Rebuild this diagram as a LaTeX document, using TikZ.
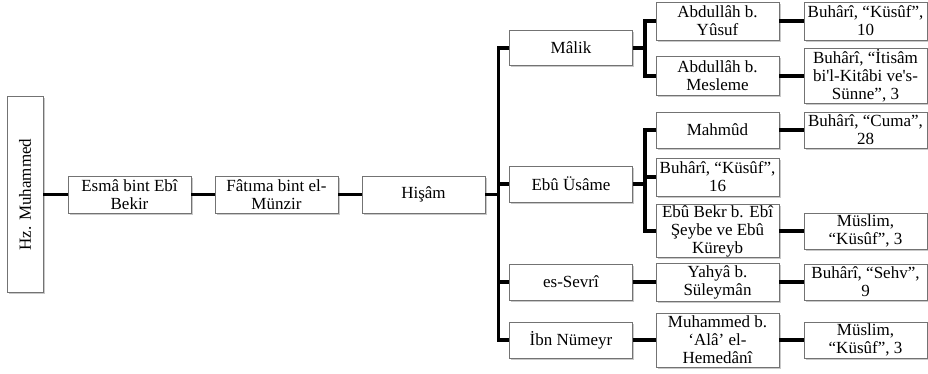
\documentclass[tikz,border=0pt]{standalone}
\usepackage{fontspec}
\setmainfont{Liberation Serif}
\usetikzlibrary{shadows}
\begin{document}
\begin{tikzpicture}[x=1pt,y=-1pt,
    box/.style={draw=black!55, line width=0.7pt, fill=white, minimum width=123pt,
      inner sep=1pt, align=center, font=\fontsize{17}{18}\selectfont,
      drop shadow={shadow xshift=1.5pt, shadow yshift=-1.5pt, fill=black!30, opacity=0.7}},
    link/.style={line width=3.5pt}]
    \useasboundingbox (0,0) rectangle (928,373);

    \node[box, minimum width=36pt, minimum height=196pt] (muh) at (25,194.5) {\rotatebox{90}{Hz. Muhammed}};
    \node[box, minimum height=37pt] (esma) at (129.5,194.5) {Esmâ bint Ebî\\Bekir};
    \node[box, minimum height=37pt] (fatima) at (276.5,194.5) {Fâtıma bint el-\\Münzir};
    \node[box, minimum height=37pt] (hisam) at (423.5,194.5) {Hişâm};

    \node[box, minimum height=35pt] (malik) at (571,48) {Mâlik};
    \node[box, minimum height=36pt] (ebu) at (571,184) {Ebû Üsâme};
    \node[box, minimum height=36pt] (sevri) at (571,282) {es-Sevrî};
    \node[box, minimum height=36pt] (numeyr) at (571,340) {İbn Nümeyr};

    \node[box, minimum height=38pt] (ayusuf) at (717.5,21) {Abdullâh b.\\Yûsuf};
    \node[box, minimum height=39pt] (amesleme) at (717.5,76) {Abdullâh b.\\Mesleme};
    \node[box, minimum height=36pt] (mahmud) at (717.5,130) {Mahmûd};
    \node[box, minimum height=38pt] (bk16) at (717.5,177) {Buhârî, “Küsûf”,\\16};
    \node[box, minimum height=50pt] (ebubekr) at (717.5,231) {Ebû Bekr b. Ebî\\Şeybe ve Ebû\\Küreyb};
    \node[box, minimum height=38pt] (yahya) at (717.5,282) {Yahyâ b.\\Süleymân};
    \node[box, minimum height=54pt] (muhala) at (717.5,340) {Muhammed b.\\‘Alâ’ el-\\Hemedânî};

    \node[box, minimum height=38pt] (bk10) at (865.5,21) {Buhârî, “Küsûf”,\\10};
    \node[box, minimum height=55pt] (bitisam) at (865.5,76) {Buhârî, “İtisâm\\bi\textquotesingle l-Kitâbi ve\textquotesingle s-\\Sünne”, 3};
    \node[box, minimum height=36pt] (bcuma) at (865.5,130) {Buhârî, “Cuma”,\\28};
    \node[box, minimum height=36pt] (mus1) at (865.5,231) {Müslim,\\“Küsûf”, 3};
    \node[box, minimum height=36pt] (bsehv) at (865.5,282) {Buhârî, “Sehv”,\\9};
    \node[box, minimum height=36pt] (mus2) at (865.5,340) {Müslim,\\“Küsûf”, 3};

    \foreach \a/\b in {muh/esma, esma/fatima, fatima/hisam, sevri/yahya, numeyr/muhala,
        ayusuf/bk10, amesleme/bitisam, mahmud/bcuma, ebubekr/mus1, yahya/bsehv, muhala/mus2}
      \draw[link] (\a) -- (\b);

    \draw[link] (hisam.east) -- ++(13,0) coordinate (tr);
    \draw[link] (malik.west) -| (tr) |- (numeyr.west);
    \draw[link] (tr |- ebu.west) -- (ebu.west);
    \draw[link] (tr |- sevri.west) -- (sevri.west);

    \draw[link] (malik.east) -- ++(12,0) coordinate (ml);
    \draw[link] (ayusuf.west) -| (ml) |- (amesleme.west);

    \draw[link] (ebu.east) -- ++(12,0) coordinate (el);
    \draw[link] (mahmud.west) -| (el) |- (ebubekr.west);
    \draw[link] (el |- bk16.west) -- (bk16.west);
\end{tikzpicture}
\end{document}
